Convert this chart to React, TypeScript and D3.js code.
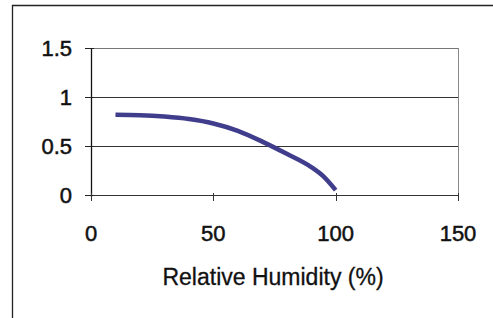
import * as d3 from "d3";
import { useRef, useEffect } from "react";

// relative humidity (%) vs value
const humidity = [10, 20, 30, 40, 50, 60, 70, 80, 90, 95, 100];
const values = [0.82, 0.815, 0.8, 0.775, 0.73, 0.655, 0.545, 0.42, 0.285, 0.19, 0.05];
const xTicks = [0, 50, 100, 150];
const yTicks = [0, 0.5, 1, 1.5];
const yTickLabels = ["0", "0.5", "1", "1.5"];
const xTitle = "Relative Humidity (%)";

export default function App() {
    const ref = useRef<SVGSVGElement | null>(null);

    useEffect(() => {
        const svg = d3.select(ref.current);
        svg.selectAll("*").remove();

        const width = 493;
        const height = 318;
        const font = "'Liberation Sans', Arial, sans-serif";

        svg.attr("width", width).attr("height", height);

        svg.append("rect").attr("width", width).attr("height", height).attr("fill", "#fff");

        // outer frame (only top and left edges visible)
        svg.append("path")
            .attr("d", `M12.5,${height} V5.5 H${width}`)
            .attr("fill", "none")
            .attr("stroke", "#222")
            .attr("stroke-width", 1.3);

        const x = d3.scaleLinear().domain([0, 150]).range([91, 458]);
        const y = d3.scaleLinear().domain([0, 1.5]).range([195, 48]);

        // gridlines
        svg.append("g")
            .selectAll("line")
            .data(yTicks)
            .enter()
            .append("line")
            .attr("x1", x(0))
            .attr("x2", x(150))
            .attr("y1", (d) => Math.round(y(d)) + 0.5)
            .attr("y2", (d) => Math.round(y(d)) + 0.5)
            .attr("stroke", (d) => (d === 1.5 ? "#777" : "#333"))
            .attr("stroke-width", 1);

        // right border of plot area
        svg.append("line")
            .attr("x1", x(150) + 0.5)
            .attr("x2", x(150) + 0.5)
            .attr("y1", y(1.5))
            .attr("y2", y(0))
            .attr("stroke", "#888");

        // y axis
        const yAxis = svg.append("g").attr("transform", `translate(${x(0)},0)`);
        yAxis.append("line")
            .attr("x1", 0.5).attr("x2", 0.5)
            .attr("y1", y(1.5)).attr("y2", y(0) + 2)
            .attr("stroke", "#111").attr("stroke-width", 1.3);
        yAxis.selectAll("line.tick")
            .data(yTicks)
            .enter()
            .append("line")
            .attr("class", "tick")
            .attr("x1", -6).attr("x2", 3)
            .attr("y1", (d) => Math.round(y(d)) + 0.5)
            .attr("y2", (d) => Math.round(y(d)) + 0.5)
            .attr("stroke", "#222");
        yAxis.selectAll("text")
            .data(yTicks)
            .enter()
            .append("text")
            .attr("x", -19)
            .attr("y", (d) => y(d))
            .attr("dy", "0.36em")
            .attr("text-anchor", "end")
            .attr("font-family", font)
            .attr("font-size", 22)
            .attr("fill", "#111")
            .attr("stroke", "#111")
            .attr("stroke-width", 0.5)
            .text((_, i) => yTickLabels[i]);

        // x axis ticks and labels
        const xAxis = svg.append("g").attr("transform", `translate(0,${y(0)})`);
        xAxis.selectAll("line")
            .data(xTicks)
            .enter()
            .append("line")
            .attr("x1", (d) => Math.round(x(d)) + 0.5)
            .attr("x2", (d) => Math.round(x(d)) + 0.5)
            .attr("y1", -2).attr("y2", 6)
            .attr("stroke", "#333");
        xAxis.selectAll("text")
            .data(xTicks)
            .enter()
            .append("text")
            .attr("x", (d) => x(d))
            .attr("y", 46)
            .attr("text-anchor", "middle")
            .attr("font-family", font)
            .attr("font-size", 22)
            .attr("fill", "#111")
            .attr("stroke", "#111")
            .attr("stroke-width", 0.5)
            .text((d) => String(d));

        svg.append("text")
            .attr("x", 273)
            .attr("y", 285)
            .attr("text-anchor", "middle")
            .attr("font-family", font)
            .attr("font-size", 23)
            .attr("fill", "#111")
            .attr("stroke", "#111")
            .attr("stroke-width", 0.3)
            .text(xTitle);

        // series line
        const line = d3.line<number>()
            .x((_, i) => x(humidity[i]))
            .y((d) => y(d))
            .curve(d3.curveMonotoneX);

        svg.append("path")
            .datum(values)
            .attr("d", line)
            .attr("fill", "none")
            .attr("stroke", "#403d8c")
            .attr("stroke-width", 4.5)
            .attr("stroke-linecap", "butt");
    }, []);

    return <svg ref={ref} style={{ position: "absolute", left: 0, top: 0 }}></svg>;
}
